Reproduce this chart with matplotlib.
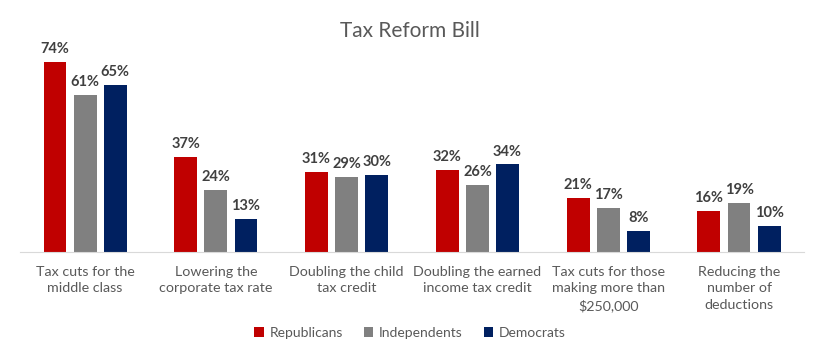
import matplotlib
matplotlib.use("Agg")
import matplotlib.pyplot as plt
import numpy as np

categories = ["Tax cuts for the\nmiddle class", "Lowering the\ncorporate tax rate",
              "Doubling the child\ntax credit", "Doubling the earned\nincome tax credit",
              "Tax cuts for those\nmaking more than\n$250,000", "Reducing the\nnumber of\ndeductions"]
series_names = ["Republicans", "Independents", "Democrats"]
republicans = [74, 37, 31, 32, 21, 16]
independents = [61, 24, 29, 26, 17, 19]
democrats = [65, 13, 30, 34, 8, 10]
colors = ["#C00000", "#808080", "#002060"]

plt.rcParams['font.family'] = ['Lato', 'DejaVu Sans']

fig = plt.figure(figsize=(8.2, 3.6), dpi=100)
ax = fig.add_axes([0.024, 0.30, 0.957, 0.572])

x = np.arange(len(categories))
w = 0.175
step = 0.23
for i, (vals, name, c) in enumerate(zip([republicans, independents, democrats], series_names, colors)):
    pos = x + (i - 1) * step
    ax.bar(pos, vals, width=w, color=c, label=name, zorder=2)
    for p, v in zip(pos, vals):
        ax.text(p, v + 2.3, f"{v}%", ha="center", va="bottom", fontsize=10.5,
                fontweight="bold", color="#404040")

ax.set_xlim(-0.5, len(categories) - 0.5)
ax.set_ylim(0, 80)
ax.set_yticks([])
ax.set_xticks(x)
ax.set_xticklabels(categories, fontsize=10.3, color="#595959", linespacing=1.45)
ax.tick_params(axis="x", length=0, pad=10)
for s in ["top", "right", "left"]:
    ax.spines[s].set_visible(False)
ax.spines["bottom"].set_color("#D9D9D9")

fig.text(0.5, 0.915, "Tax Reform Bill", ha="center", va="center", fontsize=15, color="#595959")

leg = fig.legend(loc="center", bbox_to_anchor=(0.5, 0.075), ncol=3, frameon=False,
                 fontsize=10, handlelength=0.7, handleheight=0.7, handletextpad=0.4,
                 columnspacing=1.5)
for t in leg.get_texts():
    t.set_color("#595959")

fig.savefig("out.png", dpi=100)
